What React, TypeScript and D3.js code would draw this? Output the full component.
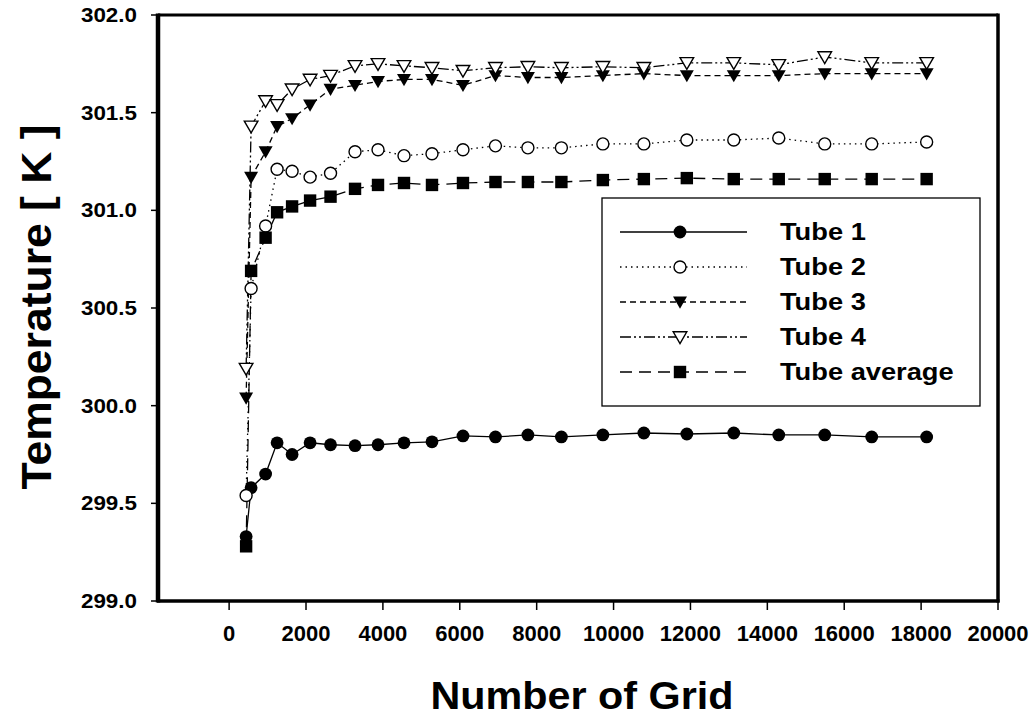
import React from "react";
import * as d3 from "d3";

// ---- data ----
const grid = [442, 572, 949, 1248, 1638, 2106, 2638, 3275, 3873, 4549, 5277, 6083, 6928, 7772, 8643, 9722, 10788, 11906, 13127, 14297, 15493, 16715, 18144];
const tube1 = [299.33, 299.58, 299.65, 299.81, 299.75, 299.81, 299.80, 299.795, 299.80, 299.81, 299.815, 299.845, 299.84, 299.85, 299.84, 299.85, 299.86, 299.855, 299.86, 299.85, 299.85, 299.84, 299.84];
const tube2 = [299.54, 300.60, 300.92, 301.21, 301.20, 301.17, 301.19, 301.30, 301.31, 301.28, 301.29, 301.31, 301.33, 301.32, 301.32, 301.34, 301.34, 301.36, 301.36, 301.37, 301.34, 301.34, 301.35];
const tube3 = [300.04, 301.17, 301.30, 301.43, 301.47, 301.54, 301.62, 301.64, 301.66, 301.67, 301.67, 301.64, 301.69, 301.68, 301.68, 301.69, 301.70, 301.69, 301.69, 301.69, 301.70, 301.70, 301.70];
const tube4 = [300.19, 301.43, 301.56, 301.54, 301.62, 301.67, 301.69, 301.74, 301.75, 301.74, 301.73, 301.715, 301.73, 301.735, 301.73, 301.735, 301.73, 301.755, 301.755, 301.745, 301.785, 301.755, 301.755];
const tubeAvg = [299.28, 300.69, 300.86, 300.99, 301.02, 301.05, 301.07, 301.11, 301.13, 301.14, 301.13, 301.14, 301.145, 301.145, 301.145, 301.155, 301.16, 301.165, 301.16, 301.16, 301.16, 301.16, 301.16];

const seriesNames = ["Tube 1", "Tube 2", "Tube 3", "Tube 4", "Tube average"];
const xTicks = [0, 2000, 4000, 6000, 8000, 10000, 12000, 14000, 16000, 18000, 20000];
const yTicks = [299.0, 299.5, 300.0, 300.5, 301.0, 301.5, 302.0];
const xTitle = "Number of Grid";
const yTitle = "Temperature [ K ]";

const FONT = "'Liberation Sans', Arial, sans-serif";

type Marker = "filledCircle" | "openCircle" | "filledDown" | "openDown" | "filledSquare";

const styles: { dash: string; marker: Marker }[] = [
  { dash: "none", marker: "filledCircle" },
  { dash: "1.5,4", marker: "openCircle" },
  { dash: "6,4", marker: "filledDown" },
  { dash: "11,3,2,3,2,3", marker: "openDown" },
  { dash: "12,7", marker: "filledSquare" },
];

function MarkerShape({ type, x, y }: { type: Marker; x: number; y: number }) {
  switch (type) {
    case "filledCircle":
      return <circle cx={x} cy={y} r={6.4} fill="#000" />;
    case "openCircle":
      return <circle cx={x} cy={y} r={6} fill="#fff" stroke="#000" strokeWidth={1.4} />;
    case "filledDown":
      return <path d={`M${x - 7},${y - 5.4}L${x + 7},${y - 5.4}L${x},${y + 6.8}Z`} fill="#000" />;
    case "openDown":
      return <path d={`M${x - 6.8},${y - 5.2}L${x + 6.8},${y - 5.2}L${x},${y + 6.5}Z`} fill="#fff" stroke="#000" strokeWidth={1.4} />;
    case "filledSquare":
      return <rect x={x - 6.2} y={y - 6.2} width={12.4} height={12.4} fill="#000" />;
  }
}

export default function App() {
  const W = 1030, H = 718;
  const left = 158, right = 998, top = 15, bottom = 601;
  const x = d3.scaleLinear().domain([-1850, 20000]).range([left, right]);
  const y = d3.scaleLinear().domain([299, 302]).range([bottom, top]);
  const allSeries = [tube1, tube2, tube3, tube4, tubeAvg];
  const line = d3.line<[number, number]>().x((d) => x(d[0])).y((d) => y(d[1]));

  const legX = 602, legY = 198, legW = 378, legH = 208;
  const rowY = (i: number) => 232 + i * 35;

  return (
    <svg width={W} height={H} style={{ position: "absolute", left: 0, top: 0, background: "#fff" }}>
      <rect x={0} y={0} width={W} height={H} fill="#fff" />
      {/* lines */}
      {allSeries.map((s, i) => (
        <path
          key={"l" + i}
          d={line(grid.map((g, j) => [g, s[j]] as [number, number])) || ""}
          fill="none"
          stroke="#000"
          strokeWidth={1.3}
          strokeDasharray={styles[i].dash}
        />
      ))}
      {/* markers */}
      {allSeries.map((s, i) =>
        grid.map((g, j) => <MarkerShape key={`m${i}-${j}`} type={styles[i].marker} x={x(g)} y={y(s[j])} />)
      )}
      {/* frame */}
      <line x1={left} x2={right} y1={top} y2={top} stroke="#000" strokeWidth={3} />
      <line x1={left - 1} x2={right + 1.5} y1={bottom} y2={bottom} stroke="#000" strokeWidth={3.5} />
      <line x1={left} x2={left} y1={top - 1.5} y2={bottom + 1.5} stroke="#000" strokeWidth={4.5} />
      <line x1={right} x2={right} y1={top - 1.5} y2={bottom + 1.5} stroke="#000" strokeWidth={3.5} />
      {/* y ticks */}
      {yTicks.map((t) => (
        <g key={"yt" + t}>
          <line x1={left - 7} x2={left} y1={y(t)} y2={y(t)} stroke="#000" strokeWidth={1.5} />
          <text
            transform={`translate(137,${y(t) + 7}) scale(1.12,1)`}
            textAnchor="end"
            fontFamily={FONT}
            fontWeight="bold"
            fontSize={20}
          >
            {t.toFixed(1)}
          </text>
        </g>
      ))}
      {/* x ticks */}
      {xTicks.map((t) => (
        <g key={"xt" + t}>
          <line x1={x(t)} x2={x(t)} y1={bottom} y2={bottom + 9} stroke="#000" strokeWidth={1.5} />
          <text x={x(t)} y={641} textAnchor="middle" fontFamily={FONT} fontWeight="bold" fontSize={22}>
            {t}
          </text>
        </g>
      ))}
      {/* axis titles */}
      <text x={582} y={709} textAnchor="middle" fontFamily={FONT} fontWeight="bold" fontSize={38} textLength={303} lengthAdjust="spacingAndGlyphs">
        {xTitle}
      </text>
      <text
        transform={`translate(51,307) rotate(-90)`}
        textAnchor="middle"
        fontFamily={FONT}
        fontWeight="bold"
        fontSize={43}
        textLength={365}
        lengthAdjust="spacingAndGlyphs"
      >
        {yTitle}
      </text>
      {/* legend */}
      <rect x={legX} y={legY} width={legW} height={legH} fill="#fff" stroke="#000" strokeWidth={1.3} />
      {seriesNames.map((n, i) => (
        <g key={"lg" + i}>
          <line x1={620} x2={747} y1={rowY(i)} y2={rowY(i)} stroke="#000" strokeWidth={1.3} strokeDasharray={styles[i].dash} />
          <MarkerShape type={styles[i].marker} x={680} y={rowY(i)} />
          <text transform={`translate(780,${rowY(i) + 8}) scale(1.16,1)`} fontFamily={FONT} fontWeight="bold" fontSize={23.5}>
            {n}
          </text>
        </g>
      ))}
    </svg>
  );
}
